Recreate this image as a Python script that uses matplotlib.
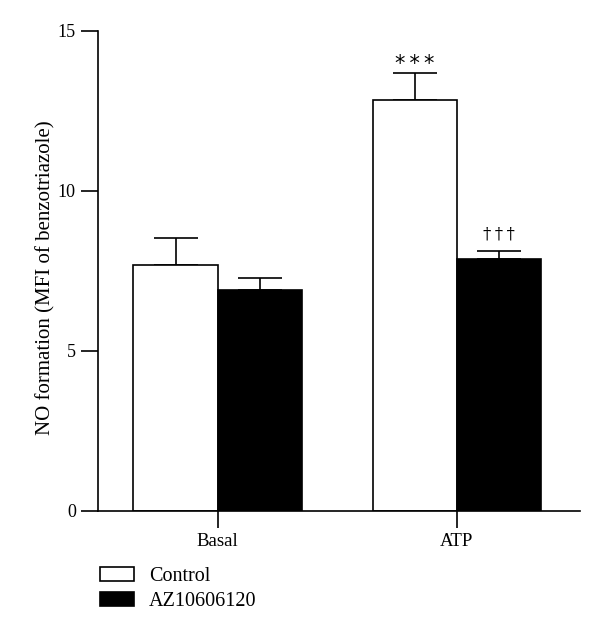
import matplotlib
matplotlib.use("Agg")
import matplotlib.pyplot as plt
import numpy as np

categories = ["Basal", "ATP"]
series_names = ["Control", "AZ10606120"]
control_mean = [7.69, 12.84]
control_err = [0.85, 0.84]
az_mean = [6.90, 7.86]
az_err = [0.37, 0.27]
annotations_control = ["", "*\u2009*\u2009*"]
annotations_az = ["", "†\u2009†\u2009†"]
yticks = [0, 5, 10, 15]

plt.rcParams['font.family'] = ['Liberation Serif', 'DejaVu Serif']
plt.rcParams['font.size'] = 13

fig = plt.figure(figsize=(6.0, 6.32), dpi=100)
ax = fig.add_axes([0.1633, 0.1915, 0.8034, 0.7595])

x = np.arange(len(categories))
w = 0.352
lw = 1.2
ax.bar(x - w/2, control_mean, w, color='white', edgecolor='black', linewidth=lw,
       label=series_names[0], zorder=2)
ax.bar(x + w/2, az_mean, w, color='black', edgecolor='black', linewidth=lw,
       label=series_names[1], zorder=2)
ax.errorbar(x - w/2, control_mean, yerr=[np.zeros(2), control_err], fmt='none',
            ecolor='black', elinewidth=lw, capsize=15.5, capthick=lw, zorder=1)
ax.errorbar(x + w/2, az_mean, yerr=[np.zeros(2), az_err], fmt='none',
            ecolor='black', elinewidth=lw, capsize=15.5, capthick=lw, zorder=1)

for i in range(len(categories)):
    if annotations_control[i]:
        ax.text(x[i] - w/2, control_mean[i] + control_err[i] + 0.30, annotations_control[i],
                ha='center', va='center', fontsize=15, family=['DejaVu Sans'])
    if annotations_az[i]:
        ax.text(x[i] + w/2, az_mean[i] + az_err[i] + 0.52, annotations_az[i],
                ha='center', va='center', fontsize=12, family=['DejaVu Serif'])

ax.set_xlim(-0.5, 1.514)
ax.set_ylim(0, 15)
ax.set_yticks(yticks)
ax.set_xticks(x)
ax.set_xticklabels(categories, fontsize=13.5)
ax.spines['top'].set_visible(False)
ax.spines['right'].set_visible(False)
for s in ['left', 'bottom']:
    ax.spines[s].set_linewidth(lw)
ax.tick_params(axis='both', direction='out', length=12, width=lw, pad=4)
ax.tick_params(axis='y', labelsize=13)
ax.set_ylabel("NO formation (MFI of benzotriazole)", fontsize=15)
ax.yaxis.set_label_coords(-0.088, 0.485)

handles, labels = ax.get_legend_handles_labels()
leg = fig.legend(handles, labels, loc='upper left', bbox_to_anchor=(0.166, 0.103),
                 frameon=False, fontsize=14.5, handlelength=1.69, handleheight=0.65,
                 handletextpad=0.75, labelspacing=0.3, borderpad=0, borderaxespad=0)

fig.savefig("out.png", dpi=100)
